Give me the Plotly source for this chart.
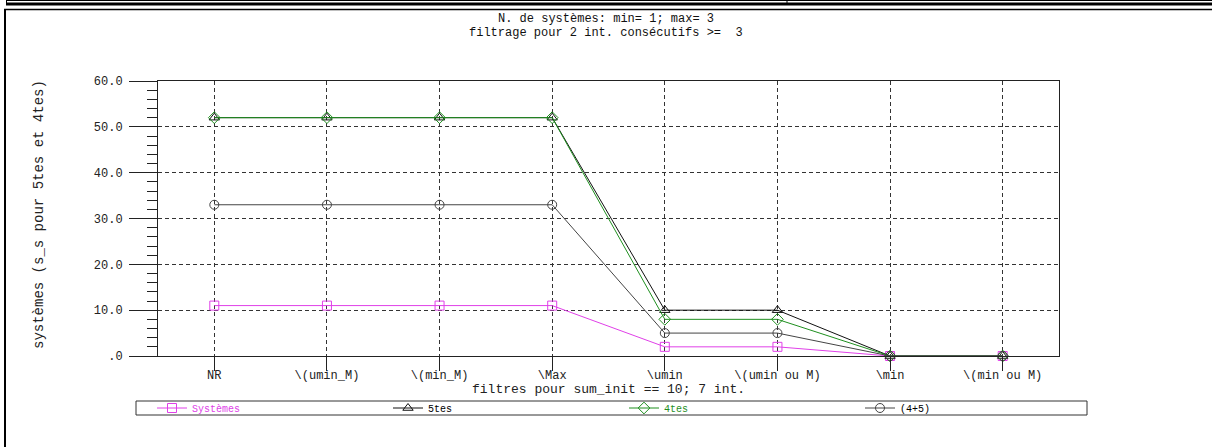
import plotly.graph_objects as go

categories = ["NR", "\\(umin_M)", "\\(min_M)", "\\Max", "\\umin", "\\(umin ou M)", "\\min", "\\(min ou M)"]
systemes = [11, 11, 11, 11, 2, 2, 0, 0]
cinq_tes = [52, 52, 52, 52, 10, 10, 0, 0]
quatre_tes = [52, 52, 52, 52, 8, 8, 0, 0]
quatre_plus_cinq = [33, 33, 33, 33, 5, 5, 0, 0]
y_ticks = [0, 10, 20, 30, 40, 50, 60]
y_ticktext = [".0", "10.0", "20.0", "30.0", "40.0", "50.0", "60.0"]

W, H = 1212, 447
L, R, T, B = 158, 1059, 81, 356
FONT = "Liberation Mono"

def px(x):
    return (x - L) / (R - L)

def py(y):
    return (B - y) / (B - T)

fig = go.Figure()
series = [
    ("Systèmes", systemes, "#e040e8", "square-open", "#e040e8"),
    ("5tes", cinq_tes, "#111111", "triangle-up-open", "#000000"),
    ("4tes", quatre_tes, "#1f8f1f", "diamond-open", "#1f8f1f"),
    ("(4+5)", quatre_plus_cinq, "#444444", "circle-open", "#000000"),
]
for name, vals, col, sym, tcol in series:
    fig.add_trace(go.Scatter(
        x=categories, y=vals, mode="lines+markers",
        name=f"<span style='color:{tcol}'>{name}</span>",
        line=dict(color=col, width=1),
        marker=dict(symbol=sym, size=9, color=col, line=dict(width=1, color=col)),
        cliponaxis=False,
    ))

fig.update_layout(
    width=W, height=H,
    margin=dict(l=L, r=W - R, t=T, b=H - B),
    paper_bgcolor="white", plot_bgcolor="white",
    font=dict(family=FONT, size=12, color="#222"),
    showlegend=True,
    legend=dict(
        orientation="h", x=px(152), y=py(408), xanchor="left", yanchor="middle",
        borderwidth=0, bgcolor="rgba(0,0,0,0)", font=dict(family=FONT, size=10),
        entrywidth=191, entrywidthmode="pixels", itemwidth=30,
        tracegroupgap=0,
    ),
)
GRID_DASH = "4px,3px"
fig.update_xaxes(
    type="category", range=[-0.5, 7.5],
    showline=True, linecolor="#222", linewidth=1, mirror=True,
    showgrid=True, gridcolor="#333", griddash=GRID_DASH, gridwidth=1,
    ticks="outside", ticklen=14, tickcolor="#222", tickwidth=1,
    ticklabelstandoff=-6,
    tickfont=dict(family=FONT, size=12, color="#222"),
)
fig.update_yaxes(
    range=[0, 60], tickvals=y_ticks, ticktext=y_ticktext,
    showline=True, linecolor="#222", linewidth=1, mirror=True,
    showgrid=True, gridcolor="#333", griddash=GRID_DASH, gridwidth=1,
    zeroline=False,
    ticks="outside", ticklen=28, tickcolor="#222", tickwidth=1,
    ticklabelstandoff=4,
    minor=dict(dtick=2, ticks="outside", ticklen=10, tickcolor="#222", showgrid=False),
    tickfont=dict(family=FONT, size=12, color="#222"),
)

fig.add_annotation(text="N. de systèmes: min= 1; max= 3", x=px(606), y=py(19), xref="paper", yref="paper",
                   showarrow=False, font=dict(family=FONT, size=12, color="#111"), yanchor="middle")
fig.add_annotation(text="filtrage pour 2 int. consécutifs >=  3", x=px(606), y=py(33), xref="paper", yref="paper",
                   showarrow=False, font=dict(family=FONT, size=12, color="#111"), yanchor="middle")
fig.add_annotation(text="filtres pour sum_init == 10; 7 int.", x=px(608), y=py(389), xref="paper", yref="paper",
                   showarrow=False, font=dict(family=FONT, size=13, color="#222"), yanchor="middle")
fig.add_annotation(text="systèmes (s_s pour 5tes et 4tes)", x=px(39), y=py(215), xref="paper", yref="paper",
                   showarrow=False, textangle=-90, font=dict(family=FONT, size=14, color="#222"),
                   xanchor="center", yanchor="middle")

# legend box
fig.add_shape(type="rect", xref="paper", yref="paper", x0=px(136), x1=px(1087), y0=py(415), y1=py(401),
              line=dict(color="#333", width=1))

# outer frame
fig.add_shape(type="rect", xref="paper", yref="paper", x0=px(6), x1=px(1212), y0=py(5.5), y1=py(2.5),
              fillcolor="black", line=dict(width=0), layer="above")
fig.add_shape(type="line", xref="paper", yref="paper", x0=px(6), x1=px(1212), y0=py(0.5), y1=py(0.5),
              line=dict(color="black", width=1))
fig.add_shape(type="line", xref="paper", yref="paper", x0=px(6.5), x1=px(6.5), y0=py(0), y1=py(3),
              line=dict(color="black", width=1))
fig.add_shape(type="line", xref="paper", yref="paper", x0=px(787), x1=px(787), y0=py(0), y1=py(3),
              line=dict(color="black", width=1))
fig.add_shape(type="line", xref="paper", yref="paper", x0=px(4), x1=px(1212), y0=py(9.5), y1=py(9.5),
              line=dict(color="black", width=1.5))
fig.add_shape(type="line", xref="paper", yref="paper", x0=px(5), x1=px(5), y0=py(9), y1=py(447),
              line=dict(color="black", width=2))

fig.write_html("out.html", config={"displayModeBar": False},
               post_script="document.body.style.margin='0';")
